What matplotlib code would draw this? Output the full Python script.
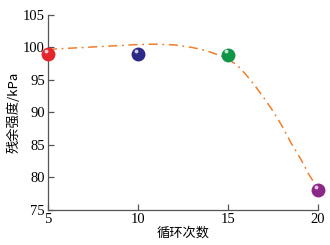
import matplotlib.pyplot as plt

# measured points (cycles, residual strength)
cycles = [5, 10, 15, 20]
strength = [99.0, 99.0, 98.9, 78.1]
ball_colors = ["#e3262d", "#2c2a86", "#0e9548", "#8b2787"]

# fitted curve
fit_x = [5, 6, 7, 8, 9, 10, 11, 12, 13, 13.5, 14, 14.5, 15, 15.5, 16,
         16.5, 17, 17.5, 18, 18.5, 19, 19.5, 19.85]
fit_y = [99.7, 99.85, 100.0, 100.15, 100.3, 100.45, 100.5, 100.4, 100.0,
         99.7, 99.3, 98.8, 98.2, 97.3, 95.8, 94.1, 92.2, 90.2, 87.9, 85.3,
         83.0, 80.4, 78.9]

x_ticks = [5, 10, 15, 20]
y_ticks = [75, 80, 85, 90, 95, 100, 105]

serif = ["Liberation Serif", "DejaVu Serif"]
cjk = ["Noto Sans CJK SC", "Liberation Serif"]

fig = plt.figure(figsize=(3.3, 2.45), dpi=100)
ax = fig.add_axes([0.145, 0.143, 0.819, 0.796])

ax.plot(fit_x, fit_y, color="#ee7f2d", linestyle=(0, (6, 3, 1.2, 3)),
        linewidth=1.1, zorder=2)

for x, y, c in zip(cycles, strength, ball_colors):
    ax.plot(x, y, "o", color=c, markersize=10, markeredgewidth=0,
            clip_on=False, zorder=3)
    ax.plot(x - 0.12, y + 0.5, "o", color="white", alpha=0.75,
            markersize=2.8, markeredgewidth=0, clip_on=False, zorder=4)

ax.set_xlim(5, 20)
ax.set_ylim(75, 105)
ax.set_xticks(x_ticks)
ax.set_yticks(y_ticks)
ax.tick_params(direction="in", length=4, width=0.9, color="#555555",
               labelsize=10.5, pad=2)
for lab in ax.get_xticklabels() + ax.get_yticklabels():
    lab.set_family(serif)

ax.spines["top"].set_visible(False)
ax.spines["right"].set_visible(False)
for s in ("left", "bottom"):
    ax.spines[s].set_color("#555555")
    ax.spines[s].set_linewidth(0.9)

ax.set_xlabel("循环次数", family=cjk, fontsize=9.5, labelpad=1)
ax.set_ylabel("残余强度/kPa", family=cjk, fontsize=9.5, labelpad=2)

fig.savefig("out.png", dpi=100, facecolor="white")
